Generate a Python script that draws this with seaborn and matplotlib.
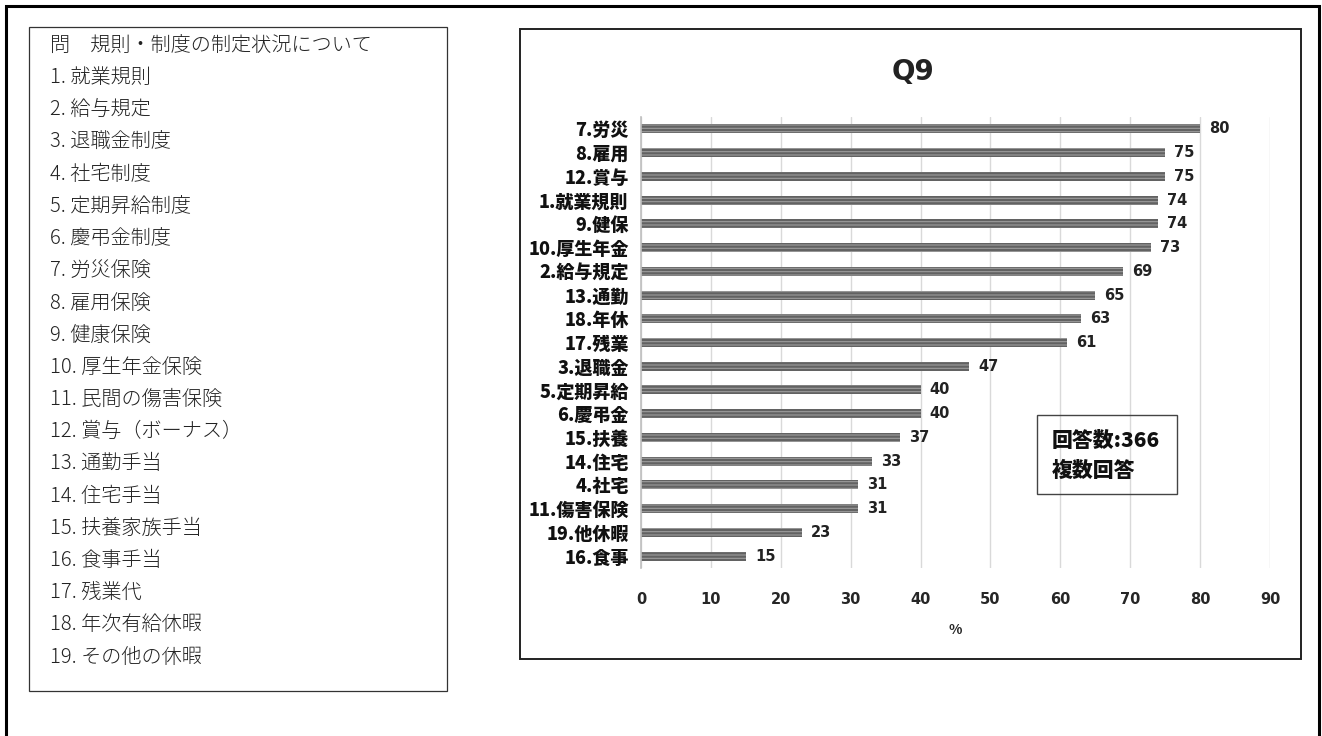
import matplotlib
matplotlib.use("Agg")
import matplotlib.pyplot as plt
from matplotlib.patches import Rectangle
import seaborn as sns
import pandas as pd

# Items, sorted by share of companies that have each rule / system (%)
labels = ["7.労災", "8.雇用", "12.賞与", "1.就業規則", "9.健保", "10.厚生年金",
          "2.給与規定", "13.通勤", "18.年休", "17.残業", "3.退職金", "5.定期昇給",
          "6.慶弔金", "15.扶養", "14.住宅", "4.社宅", "11.傷害保険", "19.他休暇",
          "16.食事"]
values = [80, 75, 75, 74, 74, 73, 69, 65, 63, 61, 47, 40, 40, 37, 33, 31, 31, 23, 15]

question = "問　規則・制度の制定状況について"
item_list = ["1. 就業規則", "2. 給与規定", "3. 退職金制度", "4. 社宅制度",
             "5. 定期昇給制度", "6. 慶弔金制度", "7. 労災保険", "8. 雇用保険",
             "9. 健康保険", "10. 厚生年金保険", "11. 民間の傷害保険",
             "12. 賞与（ボーナス）", "13. 通勤手当", "14. 住宅手当",
             "15. 扶養家族手当", "16. 食事手当", "17. 残業代", "18. 年次有給休暇",
             "19. その他の休暇"]
x_ticks = [0, 10, 20, 30, 40, 50, 60, 70, 80, 90]

sns.set_theme(style="white")
plt.rcParams["font.family"] = ["Noto Sans CJK JP", "DejaVu Sans"]
plt.rcParams["hatch.linewidth"] = 0.8

W, H = 1322, 736
fig = plt.figure(figsize=(W / 100, H / 100), dpi=100)


def fbox(x0, y0, x1, y1, lw, color="#222222"):
    fig.patches.append(Rectangle((x0 / W, 1 - y1 / H), (x1 - x0) / W, (y1 - y0) / H,
                                 transform=fig.transFigure, fill=False,
                                 linewidth=lw, edgecolor=color, zorder=0))


# page frame and the two panels
fbox(6, 6, 1319, 760, 2.2, "#000000")
fbox(29, 27, 447, 691, 0.9, "#333333")
fbox(520, 29, 1301, 659, 1.4, "#222222")

# question text panel
fig.text(50 / W, 1 - 45 / H, question, fontsize=14.5, va="center", ha="left",
         color="#222222", fontweight="light")
for i, t in enumerate(item_list):
    fig.text(50 / W, 1 - (77.5 + i * 32.2) / H, t, fontsize=14.5, va="center",
             ha="left", color="#222222", fontweight="light")

# bar chart
ax = fig.add_axes([641 / W, 1 - 568 / H, (1270 - 641) / W, (568 - 117) / H])
df = pd.DataFrame({"item": labels, "pct": values})
sns.barplot(data=df, x="pct", y="item", ax=ax, orient="h", width=0.38,
            color="#626262", saturation=1, edgecolor="#9c9c9c", linewidth=0)
for p in ax.patches:
    p.set_hatch("-----")

ax.set_xlim(0, 90)
ax.set_xticks(x_ticks)
ax.set_xticklabels([str(v) for v in x_ticks], fontsize=10.5, fontweight="bold",
                   family="DejaVu Sans")
ax.tick_params(axis="x", length=0, pad=17)
ax.tick_params(axis="y", length=0, pad=9)
for t in ax.get_yticklabels():
    t.set_fontsize(13)
    t.set_fontweight("heavy")
    t.set_color("#111111")
ax.set_ylabel("")
ax.set_xlabel("%", fontsize=10, fontweight="bold", labelpad=12)
ax.grid(axis="x", color="#d9d9d9", linewidth=1)
ax.grid(axis="y", visible=False)
ax.set_axisbelow(True)
for s in ["top", "right", "bottom"]:
    ax.spines[s].set_visible(False)
ax.spines["left"].set_color("#bfbfbf")
ax.spines["left"].set_linewidth(1.2)

for p, v in zip(ax.patches, values):
    ax.text(p.get_width() + 1.3, p.get_y() + p.get_height() / 2, str(v),
            fontsize=10.5, fontweight="bold", va="center", ha="left",
            family="DejaVu Sans", color="#222222")

fig.text(913 / W, 1 - 72 / H, "Q9", fontsize=20, fontweight="bold",
         ha="center", va="center", family="DejaVu Sans", color="#222222")

# response count note
fbox(1037, 415, 1177, 494, 1.0, "#444444")
fig.text(1052 / W, 1 - 441 / H, "回答数:366", fontsize=15, fontweight="heavy",
         ha="left", va="center", color="#111111")
fig.text(1052 / W, 1 - 471 / H, "複数回答", fontsize=15, fontweight="heavy",
         ha="left", va="center", color="#111111")

fig.savefig("out.png", dpi=100, facecolor="white")
